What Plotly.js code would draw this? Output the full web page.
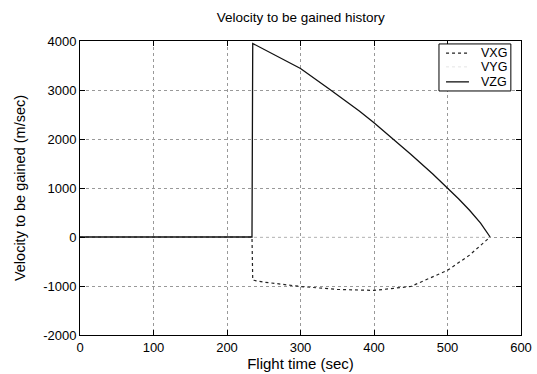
<!DOCTYPE html>
<html><head><meta charset="utf-8">
<script src="https://cdn.plot.ly/plotly-3.0.1.min.js"></script>
<style>body{margin:0;background:#fff}#c{width:537px;height:374px}</style>
</head><body><div id="c"></div>
<script>
const tX = [0, 234, 235, 250, 300, 350, 400, 450, 500, 530, 558];
const vxg = [0, 0, -880, -920, -1010, -1070, -1090, -1010, -680, -370, 0];
const tY = [0, 558];
const vyg = [0, 0];
const tZ = [0, 234, 235, 260, 300, 340, 380, 400, 420, 450, 480, 500, 515, 530, 545, 558];
const vzg = [0, 0, 3950, 3750, 3440, 3010, 2570, 2330, 2080, 1690, 1285, 1005, 780, 545, 285, 0];
const xTicks = [0, 100, 200, 300, 400, 500, 600];
const yTicks = [-2000, -1000, 0, 1000, 2000, 3000, 4000];
const seriesNames = ['VXG', 'VYG', 'VZG'];

const font = {family: 'Liberation Sans, Arial, sans-serif', color: '#000'};
const styles = [
  {color: '#222', width: 1.2, dash: 'dot'},
  {color: '#e4e4e4', width: 1, dash: 'dot'},
  {color: '#111', width: 1.3}
];
const traces = [
  {x: tX, y: vxg, name: seriesNames[0], mode: 'lines', line: styles[0]},
  {x: tY, y: vyg, name: seriesNames[1], mode: 'lines', line: styles[1]},
  {x: tZ, y: vzg, name: seriesNames[2], mode: 'lines', line: styles[2]}
];

const rowY = [0.959, 0.912, 0.861];
const shapes = [{type: 'rect', xref: 'paper', yref: 'paper', x0: 0.814, x1: 0.977, y0: 0.830, y1: 0.990,
  line: {color: '#000', width: 1}, fillcolor: '#fff', layer: 'above'}];
const annotations = [];
seriesNames.forEach((n, i) => {
  shapes.push({type: 'line', xref: 'paper', yref: 'paper', x0: 0.830, x1: 0.882, y0: rowY[i], y1: rowY[i],
    line: styles[i], layer: 'above'});
  annotations.push({xref: 'paper', yref: 'paper', x: 0.905, y: rowY[i], xanchor: 'left', yanchor: 'middle',
    text: n, showarrow: false, font: Object.assign({size: 12.5}, font)});
});

const layout = {
  width: 537, height: 374,
  margin: {l: 80, r: 16, t: 41, b: 39},
  paper_bgcolor: '#fff', plot_bgcolor: '#fff',
  font: Object.assign({size: 12}, font),
  title: {text: 'Velocity to be gained history', x: 0.56, xanchor: 'center', y: 0.955, yanchor: 'middle', font: Object.assign({size: 13.5}, font)},
  xaxis: {
    range: [0, 600], tickvals: xTicks, ticktext: xTicks.map(String),
    ticks: 'inside', ticklen: 5, tickcolor: '#000', showline: true, linecolor: '#000', linewidth: 1, mirror: 'ticks',
    showgrid: true, gridcolor: '#999', griddash: 'dot', gridwidth: 1, zeroline: false,
    title: {text: 'Flight time (sec)', font: Object.assign({size: 15}, font), standoff: 4},
    tickfont: Object.assign({size: 13}, font)
  },
  yaxis: {
    range: [-2000, 4000], tickvals: yTicks, ticktext: yTicks.map(String),
    ticks: 'inside', ticklen: 5, tickcolor: '#000', showline: true, linecolor: '#000', linewidth: 1, mirror: 'ticks',
    showgrid: true, gridcolor: '#999', griddash: 'dot', gridwidth: 1, zeroline: false,
    title: {text: 'Velocity to be gained (m/sec)', font: Object.assign({size: 14.5}, font), standoff: 14},
    tickfont: Object.assign({size: 13}, font)
  },
  showlegend: false,
  shapes: shapes,
  annotations: annotations
};
Plotly.newPlot('c', traces, layout, {displayModeBar: false, staticPlot: true});
</script></body></html>
